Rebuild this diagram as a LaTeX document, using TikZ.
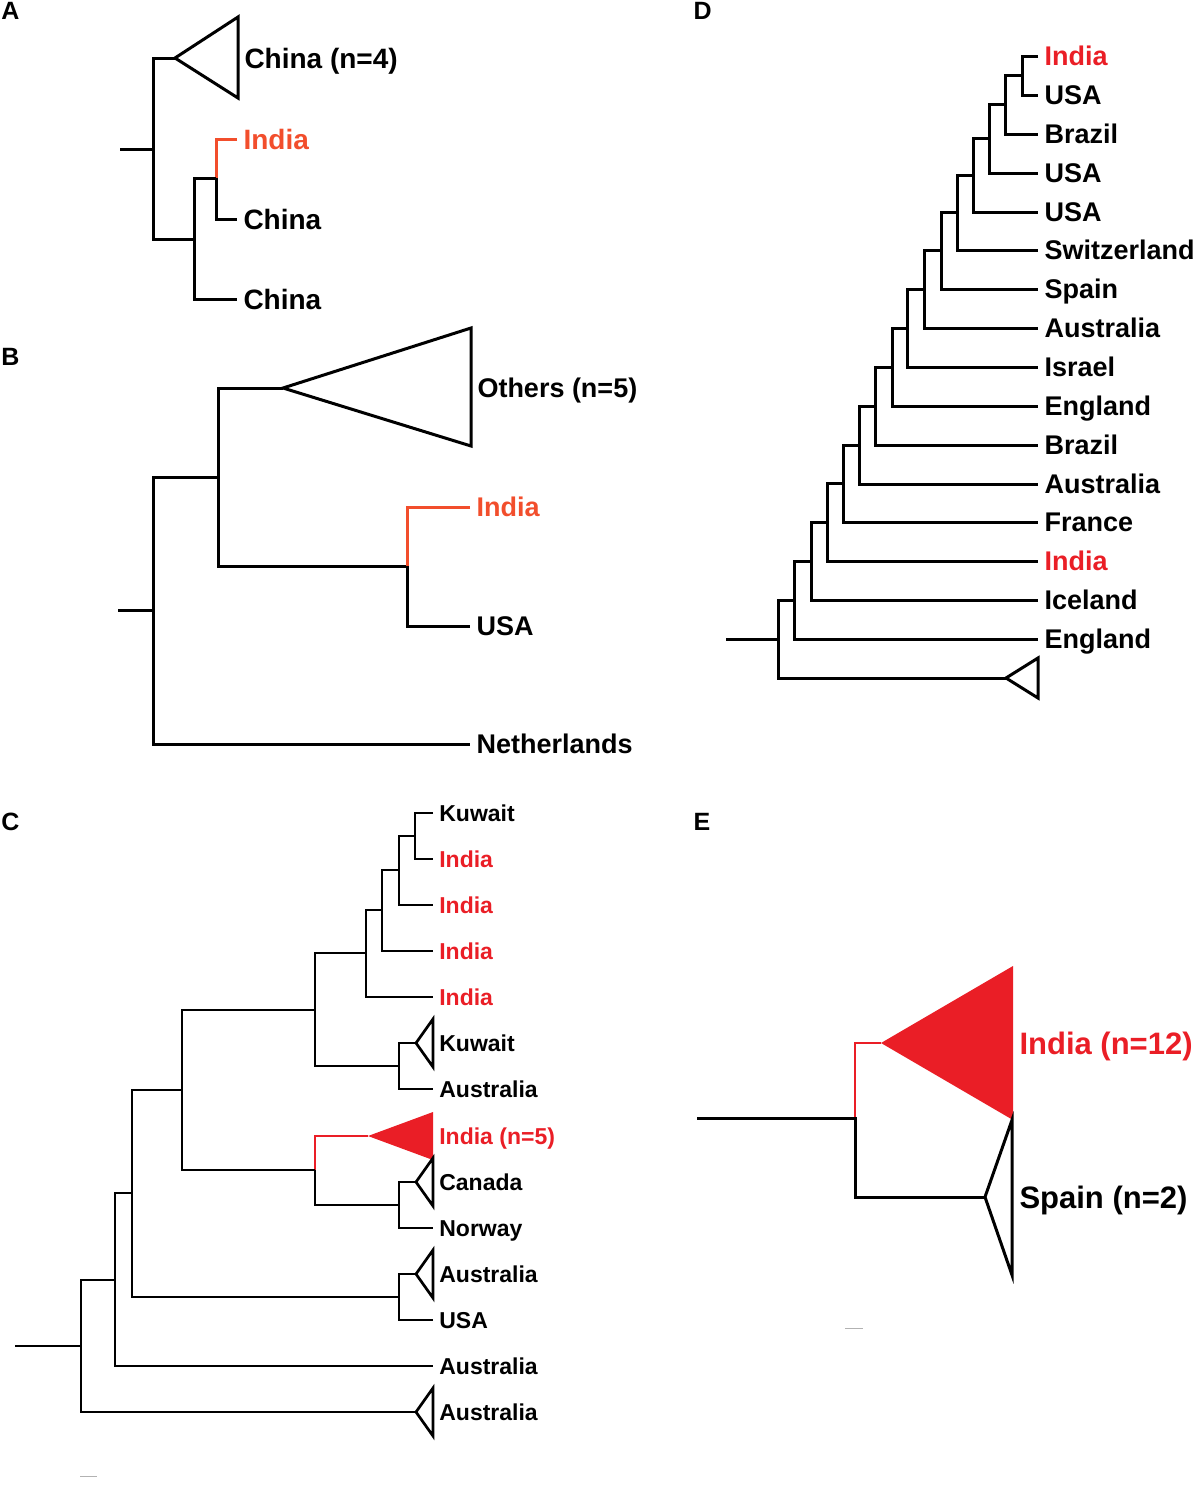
\documentclass[tikz,border=0pt]{standalone}
\usepackage{fontspec}
\setmainfont{Liberation Sans}

\definecolor{indiared}{RGB}{234,30,38}
\definecolor{orangered}{RGB}{242,78,44}

\tikzset{
  leaf/.style={anchor=west, inner xsep=5pt, inner ysep=0pt, text depth=0pt, font=\bfseries},
  panel/.style={anchor=west, inner sep=0pt, font=\fontsize{25}{25}\selectfont\bfseries},
  scalebar/.style={draw=gray!60, line width=1pt}
}

\begin{document}
\begin{tikzpicture}[x=1pt,y=-1pt]
  \useasboundingbox (0,0) rectangle (1197,1491);
  % A
  \begin{scope}[leaf/.append style={font=\fontsize{28}{30}\selectfont\bfseries, text height=20pt}, line width=3pt]
    \node[panel]                 (a-label)  at (0,11)    {A};
    \node[leaf]                  (a-china4) at (238,58)  {China (n=4)};
    \node[leaf,text=orangered]   (a-india)  at (237,139) {India};
    \node[leaf]                  (a-china1) at (237,219) {China};
    \node[leaf]                  (a-china2) at (237,299) {China};
    \coordinate (a-root) at (120,149);
    \coordinate (a-n1)   at (153,149);
    \coordinate (a-n2)   at (194,239);
    \coordinate (a-n3)   at (216,178);
    \coordinate (a-tip)  at (175,58);
    \draw (a-tip) -- (238,17) -- (238,98) -- cycle;
    \draw (a-root) -- (a-n1);
    \draw (a-tip) -| (a-n1) |- (a-n2);
    \draw[orangered] (a-india.west) -| (a-n3);
    \draw (a-n3) |- (a-china1.west);
    \draw (a-n3) -| (a-n2) |- (a-china2.west);
  \end{scope}
  % B
  \begin{scope}[leaf/.append style={font=\fontsize{27}{29}\selectfont\bfseries, text height=19.4pt}, line width=3pt]
    \node[panel]                 (b-label)  at (0,357)   {B};
    \node[leaf]                  (b-others) at (471,388) {Others (n=5)};
    \node[leaf,text=orangered]   (b-india)  at (470,507) {India};
    \node[leaf]                  (b-usa)    at (470,626) {USA};
    \node[leaf]                  (b-neth)   at (470,744) {Netherlands};
    \coordinate (b-root) at (118,610);
    \coordinate (b-n1)   at (153,610);
    \coordinate (b-n2)   at (218,477);
    \coordinate (b-n3)   at (407,566);
    \coordinate (b-tip)  at (283,388);
    \draw (b-tip) -- (471,328) -- (471,446) -- cycle;
    \draw (b-root) -- (b-n1);
    \draw (b-n2) -| (b-n1) |- (b-neth.west);
    \draw (b-tip) -| (b-n2) |- (b-n3);
    \draw[orangered] (b-india.west) -| (b-n3);
    \draw (b-n3) |- (b-usa.west);
  \end{scope}
  % C
  \begin{scope}[leaf/.append style={font=\fontsize{23}{25}\selectfont\bfseries, text height=16.5pt}, line width=2.7pt]
    \node[panel]                 (c-label)      at (0,822)    {C};
    \node[leaf]                  (c-kuwait1)    at (433,813)  {Kuwait};
    \node[leaf,text=indiared]    (c-india1)     at (433,859)  {India};
    \node[leaf,text=indiared]    (c-india2)     at (433,905)  {India};
    \node[leaf,text=indiared]    (c-india3)     at (433,951)  {India};
    \node[leaf,text=indiared]    (c-india4)     at (433,997)  {India};
    \node[leaf]                  (c-kuwait2)    at (433,1043) {Kuwait};
    \node[leaf]                  (c-australia1) at (433,1089) {Australia};
    \node[leaf,text=indiared]    (c-india5)     at (433,1136) {India (n=5)};
    \node[leaf]                  (c-canada)     at (433,1182) {Canada};
    \node[leaf]                  (c-norway)     at (433,1228) {Norway};
    \node[leaf]                  (c-australia2) at (433,1274) {Australia};
    \node[leaf]                  (c-usa)        at (433,1320) {USA};
    \node[leaf]                  (c-australia3) at (433,1366) {Australia};
    \node[leaf]                  (c-australia4) at (433,1412) {Australia};
    \coordinate (c-root) at (15,1346);
    \coordinate (c-n1)   at (415,836);
    \coordinate (c-n2)   at (399,870);
    \coordinate (c-n3)   at (382,910);
    \coordinate (c-n4)   at (366,953);
    \coordinate (c-n5)   at (399,1066);
    \coordinate (c-n6)   at (315,1010);
    \coordinate (c-n7)   at (399,1205);
    \coordinate (c-n8)   at (315,1170);
    \coordinate (c-n9)   at (182,1090);
    \coordinate (c-n10)  at (399,1297);
    \coordinate (c-n11)  at (132,1193);
    \coordinate (c-n12)  at (115,1280);
    \coordinate (c-n13)  at (81,1346);
    \coordinate (c-tip6)  at (416,1043);
    \coordinate (c-tip8)  at (368,1136);
    \coordinate (c-tip9)  at (416,1182);
    \coordinate (c-tip11) at (416,1274);
    \coordinate (c-tip14) at (416,1412);
    % collapsed clades
    \draw (c-tip6) -- (433,1019) -- (433,1067) -- cycle;
    \fill[indiared] (c-tip8) -- (433,1112) -- (433,1160) -- cycle;
    \draw (c-tip9) -- (433,1158) -- (433,1206) -- cycle;
    \draw (c-tip11) -- (433,1250) -- (433,1298) -- cycle;
    \draw (c-tip14) -- (433,1388) -- (433,1436) -- cycle;
    \draw (c-kuwait1.west) -| (c-n1) |- (c-india1.west);
    \draw (c-n1) -| (c-n2) |- (c-india2.west);
    \draw (c-n2) -| (c-n3) |- (c-india3.west);
    \draw (c-n3) -| (c-n4) |- (c-india4.west);
    \draw (c-tip6) -| (c-n5) |- (c-australia1.west);
    \draw (c-n4) -| (c-n6) |- (c-n5);
    \draw (c-tip9) -| (c-n7) |- (c-norway.west);
    \draw[indiared, line width=2pt] (c-tip8) -| (c-n8);
    \draw (c-n8) |- (c-n7);
    \draw (c-n6) -| (c-n9) |- (c-n8);
    \draw (c-tip11) -| (c-n10) |- (c-usa.west);
    \draw (c-n9) -| (c-n11) |- (c-n10);
    \draw (c-n11) -| (c-n12) |- (c-australia3.west);
    \draw (c-n12) -| (c-n13) |- (c-tip14);
    \draw (c-root) -- (c-n13);
    \draw[scalebar] (80,1476) -- (97,1476);
  \end{scope}
  % D
  \begin{scope}[leaf/.append style={font=\fontsize{27}{29}\selectfont\bfseries, text height=19.4pt}, line width=3pt]
    \node[panel]                 (d-label)       at (692,11)  {D};
    \node[leaf,text=indiared]    (d-india1)      at (1038,56)  {India};
    \node[leaf]                  (d-usa1)        at (1038,95)  {USA};
    \node[leaf]                  (d-brazil1)     at (1038,134) {Brazil};
    \node[leaf]                  (d-usa2)        at (1038,173) {USA};
    \node[leaf]                  (d-usa3)        at (1038,212) {USA};
    \node[leaf]                  (d-switzerland) at (1038,250) {Switzerland};
    \node[leaf]                  (d-spain)       at (1038,289) {Spain};
    \node[leaf]                  (d-australia1)  at (1038,328) {Australia};
    \node[leaf]                  (d-israel)      at (1038,367) {Israel};
    \node[leaf]                  (d-england1)    at (1038,406) {England};
    \node[leaf]                  (d-brazil2)     at (1038,445) {Brazil};
    \node[leaf]                  (d-australia2)  at (1038,484) {Australia};
    \node[leaf]                  (d-france)      at (1038,522) {France};
    \node[leaf,text=indiared]    (d-india2)      at (1038,561) {India};
    \node[leaf]                  (d-iceland)     at (1038,600) {Iceland};
    \node[leaf]                  (d-england2)    at (1038,639) {England};
    \coordinate (d-root) at (726,639);
    \coordinate (d-n0)   at (1022,75.5);
    \coordinate (d-n1)   at (1005,104.8);
    \coordinate (d-n2)   at (989,138.9);
    \coordinate (d-n3)   at (973,175.4);
    \coordinate (d-n4)   at (957,212.7);
    \coordinate (d-n5)   at (941,250.9);
    \coordinate (d-n6)   at (924,289.4);
    \coordinate (d-n7)   at (907,328.2);
    \coordinate (d-n8)   at (892,367.1);
    \coordinate (d-n9)   at (875,406.1);
    \coordinate (d-n10)  at (859,445);
    \coordinate (d-n11)  at (843,483.5);
    \coordinate (d-n12)  at (827,522.3);
    \coordinate (d-n13)  at (811,561.1);
    \coordinate (d-n14)  at (794,600.1);
    \coordinate (d-n15)  at (778,639);
    \coordinate (d-tip)  at (1006,678);
    \draw (d-tip) -- (1038,658) -- (1038,698) -- cycle;
    \draw (d-india1.west) -| (d-n0) |- (d-usa1.west);
    \draw (d-n0)  -| (d-n1)  |- (d-brazil1.west);
    \draw (d-n1)  -| (d-n2)  |- (d-usa2.west);
    \draw (d-n2)  -| (d-n3)  |- (d-usa3.west);
    \draw (d-n3)  -| (d-n4)  |- (d-switzerland.west);
    \draw (d-n4)  -| (d-n5)  |- (d-spain.west);
    \draw (d-n5)  -| (d-n6)  |- (d-australia1.west);
    \draw (d-n6)  -| (d-n7)  |- (d-israel.west);
    \draw (d-n7)  -| (d-n8)  |- (d-england1.west);
    \draw (d-n8)  -| (d-n9)  |- (d-brazil2.west);
    \draw (d-n9)  -| (d-n10) |- (d-australia2.west);
    \draw (d-n10) -| (d-n11) |- (d-france.west);
    \draw (d-n11) -| (d-n12) |- (d-india2.west);
    \draw (d-n12) -| (d-n13) |- (d-iceland.west);
    \draw (d-n13) -| (d-n14) |- (d-england2.west);
    \draw (d-n14) -| (d-n15) |- (d-tip);
    \draw (d-root) -- (d-n15);
  \end{scope}
  % E
  \begin{scope}[leaf/.append style={font=\fontsize{31}{33}\selectfont\bfseries, text height=22.3pt}, line width=3pt]
    \node[panel]                 (e-label) at (692,822)   {E};
    \coordinate (e-root) at (697,1118);
    \coordinate (e-n1)   at (855,1118);
    \coordinate (e-tip1) at (881,1043);
    \coordinate (e-tip2) at (985,1197);
    \fill[indiared] (e-tip1) -- (1013,966) -- (1013,1120) -- cycle;
    \draw (e-tip2) -- (1012,1120) -- (1012,1275) -- cycle;
    \node[leaf,text=indiared]    (e-india) at (1013,1043) {India (n=12)};
    \node[leaf]                  (e-spain) at (1013,1197) {Spain (n=2)};
    \draw[indiared, line width=2pt] (e-tip1) -| (e-n1);
    \draw (e-root) -- (e-n1) |- (e-tip2);
    \draw[scalebar] (845,1328) -- (863,1328);
  \end{scope}
\end{tikzpicture}
\end{document}
